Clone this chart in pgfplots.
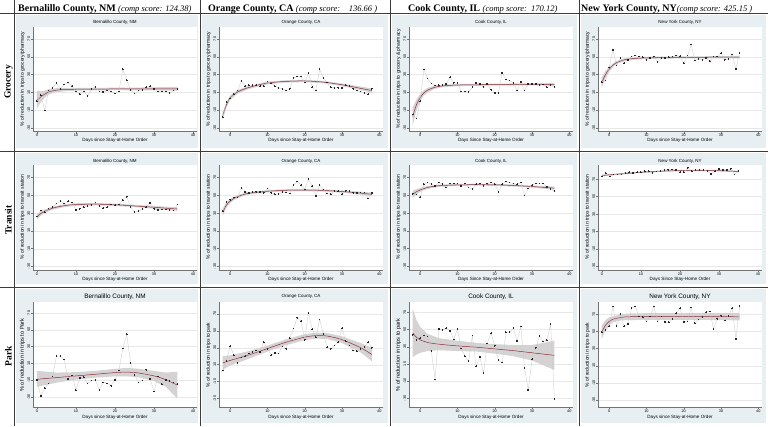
\documentclass[border=0pt]{standalone}
\usepackage{pgfplots}
\pgfplotsset{compat=1.18}
\usepackage{pgfplotstable}
\usepackage{fontspec}
\setmainfont{Liberation Serif}
\newfontfamily\arial{Liberation Sans}
\definecolor{panelbg}{RGB}{232,239,242}
\definecolor{fitred}{RGB}{135,45,55}
\definecolor{cigray}{RGB}{213,210,212}
\definecolor{gridline}{RGB}{60,60,60}

\pgfplotstableread{
x y
0 0
1 6.7
2 -10.5
3 12
4 15
5 20.6
6 14
7 19
8 21
9 17
10 11
11 8
12 11
13 5.6
14 14
15 15.7
16 11
17 10.4
18 12
19 11
20 8.6
21 11
22 36
23 23.6
24 13
25 8.6
26 12
27 13
28 15.7
29 16.8
30 14
31 11
32 11
33 11
34 9.3
35 12
36 14
}\dBG
\pgfplotstableread{
x f lo hi
0 1 -8 12
1 5 -1 11
2 8 4 12
3 10.5 7.5 13.5
5 12.5 10.3 14.7
8 13.3 11.6 15
12 13.6 12.1 15.1
20 13.8 12.4 15.2
28 13.9 12.3 15.5
36 14 11.8 16.2
}\fBG

\pgfplotstableread{
x y
-2 -18
-1 -1
0 3
1 8
2 12
3 23
4 17
5 18
6 18
7 18
8 17
9 17
10 22
11 20
12 17
13 15
14 14
15 12
16 14
17 26
18 28
19 28
20 21
21 32
22 16
23 12
24 36
25 26
26 21
27 16
28 15
29 15
30 15
31 18
32 17
33 14
34 12
35 11
36 9
37 8
38 14
}\dOG
\pgfplotstableread{
x f lo hi
-2 -16 -20 -12
-1 -4 -7 -1
0 4 1.5 6.5
2 10.5 8.5 12.5
5 15.5 13.8 17.2
10 20.5 19 22
15 22.3 21 23.6
20 22.8 21.5 24.1
25 21.5 20.2 22.8
30 18.5 17 20
35 14.5 12.5 16.5
38 12 9.5 14.5
}\fOG

\pgfplotstableread{
x y
-2 -15
-1 -19.5
0 0
1 35.6
2 25.4
3 19.8
4 17.6
5 18
6 18
7 19.4
8 27
9 20.6
10 20.6
11 11
12 11
13 10.4
14 15.7
15 20.6
16 19.4
17 15.7
18 19.4
19 13
20 9.3
21 9.3
22 31.8
23 24.3
24 23.2
25 20.6
26 12
27 21.7
28 12
29 19.4
30 19.4
31 19.4
32 18
33 18.7
34 15.7
35 18
36 15.7
}\dCG
\pgfplotstableread{
x f lo hi
-2 -17 -27 -7
-1 -4 -10 2
0 4 0 8
1 9.5 6.5 12.5
2 12.5 10 15
4 15.8 14 17.6
6 17.2 15.8 18.6
10 18.2 17 19.4
20 18.7 17.6 19.8
30 19 17.8 20.2
36 19.1 17.6 20.6
}\fCG

\pgfplotstableread{
x y
-2 21.5
-1 23.4
0 38
1 57.7
2 40
3 48.4
4 42.8
5 46.5
6 50.2
7 51.3
8 50.2
9 49.5
10 46.5
11 48.7
12 50.2
13 43.9
14 48.7
15 48.7
16 49.5
17 50.2
18 51.3
19 50.6
20 42.8
21 51.3
22 63.7
23 45.7
24 47.6
25 46.5
26 48.7
27 45
28 50.2
29 50.2
30 54
31 46.5
32 47.6
33 52.5
34 36.4
35 54.3
}\dNG
\pgfplotstableread{
x f lo hi
-2 21 15 27
-1 30 26 34
0 36 33 39
1 40.5 38.5 42.5
2 43.5 41.8 45.2
4 46.5 45 48
6 47.8 46.5 49.1
10 48.8 47.6 50
20 49.3 48.2 50.4
30 49.5 48.3 50.7
35 49.5 48 51
}\fNG

\pgfplotstableread{
x y
0 26
1 33
2 31
3 35
4 36.8
5 40.6
6 43.3
7 40.6
8 43.3
9 41.8
10 33.7
11 34.9
12 36.8
13 37.6
14 38.7
15 41.8
16 37.9
17 35.6
18 36.8
19 39.8
20 38.7
21 39.5
22 44.4
23 48.2
24 36.8
25 31
26 32.2
27 34.9
28 36.8
29 41.4
30 34.9
31 33.7
32 34
33 34
34 33.7
35 33
36 39.8
}\dBT
\pgfplotstableread{
x f lo hi
0 26 23 29
1 29.5 27 32
2 32 30 34
4 35.5 33.8 37.2
7 38.3 36.8 39.8
10 39.6 38.2 41
15 40 38.7 41.3
20 39.3 38 40.6
25 38 36.7 39.3
30 36.5 35 38
36 34.5 32.5 36.5
}\fBT

\pgfplotstableread{
x y
-2 32
-1 42.3
0 45
1 47.3
2 47.3
3 58.5
4 53.8
5 52.7
6 53.8
7 53.8
8 53.8
9 52.7
10 57.7
11 52.7
12 51.2
13 51.2
14 53.8
15 53
16 52
17 61.5
18 65.4
19 61.5
20 56.5
21 68
22 60.4
23 49.2
24 61.5
25 56.5
26 52
27 51.2
28 55
29 54.6
30 51.2
31 55
32 54.6
33 52.7
34 52.7
35 53
36 53
37 46.2
38 52.7
}\dOT
\pgfplotstableread{
x f lo hi
-2 31 27 35
-1 39 36 42
0 43.5 41.3 45.7
1 46.5 44.7 48.3
3 50 48.5 51.5
5 52.2 50.9 53.5
10 54.5 53.3 55.7
15 55.6 54.4 56.8
20 55.9 54.7 57.1
25 55.4 54.2 56.6
30 54.2 53 55.4
35 52.4 50.8 54
38 51 49 53
}\fOT

\pgfplotstableread{
x y
-2 51.7
-1 51
0 48
1 62.4
2 64.3
3 62.4
4 60.5
5 64.3
6 62.4
7 58.6
8 63.2
9 63.2
10 63.2
11 60.5
12 63.2
13 58.6
14 56.7
15 62.4
16 63.2
17 60.5
18 63.2
19 64.3
20 62.4
21 54
22 62.4
23 65.4
24 64.3
25 63.2
26 62.4
27 64.3
28 49.8
29 57.5
30 61.3
31 63.2
32 63.2
33 63.2
34 59.4
35 56.7
36 54.8
}\dCT
\pgfplotstableread{
x f lo hi
-2 51 47 55
-1 54 51 57
0 56 53.8 58.2
2 58.8 57.2 60.4
5 60.7 59.5 61.9
10 61.6 60.5 62.7
15 61.9 60.8 63
20 61.7 60.6 62.8
25 61 59.9 62.1
30 59.8 58.6 61
36 58 56.3 59.7
}\fCT

\pgfplotstableread{
x y
0 73
1 76.6
2 72.7
3 75
4 75
5 75
6 77
7 77.8
8 77
9 77.8
10 77.8
11 79
12 79
13 77
14 78.6
15 79
16 80.5
17 80.5
18 80.9
19 80.5
20 77.8
21 77.8
22 82.8
23 79
24 80.5
25 80.5
26 80.5
27 79
28 75.8
29 79
30 81.7
31 80.5
32 80.5
33 81.7
34 75
35 79
}\dNT
\pgfplotstableread{
x f lo hi
0 74 73 75
5 75.9 75.1 76.7
10 77.6 76.9 78.3
15 78.9 78.2 79.6
20 79.6 78.9 80.3
25 79.8 79.1 80.5
30 79.5 78.7 80.3
35 78.6 77.6 79.6
}\fNT

\pgfplotstableread{
x y
0 -9.8
1 -28.8
2 -19.5
3 -13.9
4 -5.8
5 18.4
6 18.4
7 14.4
8 -8.6
9 -4.6
10 -21.9
11 -7.4
12 -6.6
13 -13.9
14 -10.6
15 -9.8
16 -21.9
17 -12.7
18 -13.9
19 -16.7
20 -9.8
21 1.5
22 27.7
23 44.6
24 10.3
25 -3.8
26 -12.7
27 -10.6
28 2.3
29 -8.6
30 -23.5
31 -5.8
32 -14.7
33 -9.8
34 -11
35 -13
36 -14.7
}\dBP
\pgfplotstableread{
x f lo hi
0 -9 -18 1
5 -7 -13 -1
10 -5 -9.5 -0.5
15 -3 -7 1
20 -1 -5.5 3.5
23 -0.5 -5.5 4.5
26 -1.5 -6.5 3.5
30 -5 -11 1
33 -9.5 -18 -1
36 -16 -32 0
}\fBP

\pgfplotstableread{
x y
-2 3.1
-1 14.6
0 31.9
1 21.2
2 12.3
3 18.5
4 20
5 23.1
6 25
7 26.9
8 25
9 36.5
10 28.8
11 21.2
12 23.8
13 23.1
14 31.5
15 28.8
16 41.2
17 52.7
18 65.4
19 61.5
20 39.2
21 71.2
22 51.9
23 42.3
24 63.5
25 46.2
26 30.8
27 28.8
28 32.7
29 36.5
30 53.1
31 37.7
32 32.7
33 26.9
34 25.8
35 28.8
36 31
37 36.5
38 30
}\dOP
\pgfplotstableread{
x f lo hi
-2 12 4 20
0 15 9 21
5 21.5 17 26
10 29 25.5 32.5
15 36.5 33 40
20 42.5 39 46
23 44.3 40.8 47.8
26 43.8 40.3 47.3
30 39.5 35.5 43.5
35 30 24.5 35.5
38 22 14 30
}\fOP

\pgfplotstableread{
x y
-2 44
-1 38
0 40
1 43
2 41.8
3 24.9
4 -8
5 50.8
6 49.6
7 51.6
8 48.4
9 38.6
10 50.4
11 28
12 19
13 13.1
14 43
15 7.6
16 18.2
17 -0.6
18 33.9
19 45.7
20 31.2
21 14.3
22 11.6
23 46.9
24 46.9
25 51.6
26 36.7
27 53.5
28 5.3
29 -20.2
30 15.5
31 28.8
32 42.5
33 35.9
34 37.8
35 56.3
36 -30.8
}\dCP
\pgfplotstableread{
x f lo hi
-2 46 18 74
-1 41 21 61
0 38 23 53
2 35 25 45
5 33 26 40
10 31 25 37
15 29.5 24.5 34.5
20 27.5 22 33
25 25.5 19 32
30 23 14 32
36 20 3 37
}\fCP

\pgfplotstableread{
x y
-2 48.8
-1 51.2
0 56
1 78.8
2 55.8
3 70
4 55.8
5 58.5
6 76.9
7 78.8
8 67.3
9 66.5
10 61.5
11 67.3
12 78.8
13 61.5
14 67.3
15 60.8
16 60.4
17 64.2
18 71.2
19 76.9
20 60.8
21 61.5
22 77.7
23 59.6
24 63.5
25 66.5
26 72.3
27 73.1
28 52.7
29 64.6
30 68.1
31 62.7
32 68.1
33 76.9
34 41.2
35 79.6
}\dNP
\pgfplotstableread{
x f lo hi
-2 49 41 57
-1 57 51 63
0 61.5 57 66
1 64 60.5 67.5
3 66 62.5 69.5
5 66.8 63 70.6
10 67.1 63.2 71
20 67.2 63.3 71.1
30 67 63 71
35 66.8 62.6 71
}\fNP

\pgfplotsset{panel/.style={
  scale only axis, width=164pt, height=105pt,
  xmin=-1, xmax=41, ymin=-34, ymax=84,
  axis x line*=bottom, axis y line*=left,
  axis line style={-, draw=black!55, line width=0.35pt},
  axis background/.style={fill=white},
  xtick={0,10,20,30,40}, ytick={-30,-10,10,30,50,70},
  tick align=outside, major tick length=2pt,
  tick style={black!55, line width=0.35pt},
  xticklabel style={font=\arial\fontsize{3.8}{4}\selectfont, inner sep=0.6pt},
  yticklabel style={font=\arial\fontsize{3.8}{4}\selectfont, rotate=90, anchor=south, inner sep=0.6pt},
  /pgf/number format/assume math mode=true,
  ymajorgrids, grid style={black!9, line width=0.3pt},
}}

\newcommand{\tfs}{\fontsize{4.5}{5}\selectfont}
\newcommand{\tfl}{\fontsize{6.4}{7}\selectfont}
\newcommand{\lfs}{\fontsize{5}{6}\selectfont}
\newcommand{\lfl}{\fontsize{5.6}{6}\selectfont}
\newcommand{\xfs}{\fontsize{4.6}{5}\selectfont}

% #1 L, #2 T, #3 axis opts, #4 data, #5 fit, #6 title, #7 ylabel, #8 xlabel
\newcommand{\panel}[8]{%
  \fill[panelbg] ({#1pt+2pt},{-#2pt-2pt}) rectangle ({#1pt+\cellw-2pt},{-#2pt-\cellh+3pt});
  \begin{axis}[panel, at={({#1pt+19pt},{-#2pt-\rowtop})}, anchor=north west, #3]
    \addplot[draw=none, stack plots=y, forget plot] table[x=x,y=lo]{#5};
    \addplot[fill=cigray, draw=none, stack plots=y, forget plot] table[x=x,y expr=\thisrow{hi}-\thisrow{lo}]{#5} \closedcycle;
    \addplot[fitred, line width=0.5pt, smooth, stack plots=false] table[x=x,y=f]{#5};
    \addplot[black!22, line width=0.3pt, mark=*, mark size=0.32pt, stack plots=false,
      mark options={fill=black!85, draw=black!85, line width=0pt}] table[x=x,y=y]{#4};
  \end{axis}
  \node[font=\arial, inner sep=0pt] at ({#1pt+101pt},{-#2pt-\rowtitle}) {#6};
  \node[font=\arial\xfs, inner sep=0pt] at ({#1pt+101pt},{-#2pt-\rowxl}) {#8};
  \node[font=\arial, inner sep=0pt, rotate=90] at ({#1pt+8.5pt},{-#2pt-\rowylab}) {#7};
}

\begin{document}
\begin{tikzpicture}
\fill[white] (0pt,0pt) rectangle (768pt,-426pt);

\def\rowtop{13.5pt}\def\rowtitle{9.5pt}\def\rowxl{127.5pt}\def\rowylab{66pt}\def\cellh{138pt}
\def\cellw{186pt}
\panel{14}{13}{}{\dBG}{\fBG}{\tfs Bernalillo County, NM}{\lfs \% of reduction in trips to grocery/pharmacy}{Days since Stay-at-Home Order}
\def\cellw{190pt}
\panel{200}{13}{xmin=-3}{\dOG}{\fOG}{\tfs Orange County, CA}{\lfs \% of reduction in trips to grocery/pharmacy}{Days since Stay-at-Home Order}
\def\cellw{189pt}
\panel{390}{13}{xmin=-3}{\dCG}{\fCG}{\tfs Cook County, IL}{\lfs \% of reduction in trips to grocery \& pharmacy}{Days Since Stay-at-Home Order}
\panel{579}{13}{xmin=-3}{\dNG}{\fNG}{\tfs New York County, NY}{\lfs \% of reduction in trips to grocery/pharmacy}{Days since Stay-at-Home Order}

\def\rowtop{14pt}\def\rowtitle{10pt}\def\rowxl{128pt}\def\rowylab{66pt}\def\cellh{136pt}
\def\cellw{186pt}
\panel{14}{151}{}{\dBT}{\fBT}{\tfs Bernalillo County, NM}{\lfs \% of reduction in trips to transit station}{Days since Stay-at-Home Order}
\def\cellw{190pt}
\panel{200}{151}{xmin=-3}{\dOT}{\fOT}{\tfs Orange County, CA}{\lfs \% of reduction in trips to transit station}{Days since Stay-at-Home Order}
\def\cellw{189pt}
\panel{390}{151}{xmin=-3}{\dCT}{\fCT}{\tfs Cook County, IL}{\lfs \% of reduction in trips to transit station}{Days Since Stay-at-Home Order}
\panel{579}{151}{ymax=86}{\dNT}{\fNT}{\tfs New York County, NY}{\lfs \% of reduction in trips to transit station}{Days Since Stay-Home Order}

\def\rowtop{15pt}\def\rowtitle{9.5pt}\def\rowxl{130pt}\def\rowylab{68pt}\def\cellh{139pt}
\def\cellw{186pt}
\panel{14}{287}{ymin=-42,ymax=83}{\dBP}{\fBP}{\tfl Bernalillo County, NM}{\lfl \% of reduction in trips to Park}{Days since Stay-at-Home Order}
\def\cellw{190pt}
\panel{200}{287}{xmin=-3,ymin=-40,ymax=84}{\dOP}{\fOP}{\tfs Orange County, CA}{\lfs \% of reduction in trips to park}{Days since Stay-at-Home Order}
\def\cellw{189pt}
\panel{390}{287}{xmin=-3,ymin=-40,ymax=82}{\dCP}{\fCP}{\tfl Cook County, IL}{\lfl \% of reduction in trips to park}{Days since Stay-at-Home Order}
\panel{579}{287}{xmin=-3,ymin=-38,ymax=84}{\dNP}{\fNP}{\tfl New York County, NY}{\lfs \% of reduction in trips to park}{Days since Stay-at-Home Order}

\draw[gridline, line width=0.8pt] (0pt,-13pt) -- (768pt,-13pt);
\draw[gridline, line width=0.7pt] (0pt,-151pt) -- (768pt,-151pt);
\draw[gridline, line width=0.7pt] (0pt,-287pt) -- (768pt,-287pt);
\foreach \xx in {14,200,390,579} \draw[gridline, line width=0.7pt] (\xx pt,0pt) -- (\xx pt,-426pt);

\node[anchor=base west, inner sep=0pt] at (18pt,-11pt) {{\fontsize{10}{12}\selectfont\bfseries Bernalillo County, NM} {\fontsize{8.5}{10}\selectfont\itshape (comp score: 124.38)}};
\node[anchor=base west, inner sep=0pt] at (208pt,-11pt) {{\fontsize{10}{12}\selectfont\bfseries Orange County, CA} {\fontsize{8.5}{10}\selectfont\itshape (comp score:\ \ \ \ 136.66 )}};
\node[anchor=base west, inner sep=0pt] at (408pt,-11pt) {{\fontsize{10}{12}\selectfont\bfseries Cook County, IL} {\fontsize{8.5}{10}\selectfont\itshape (comp score:\ \ 170.12)}};
\node[anchor=base west, inner sep=0pt] at (581pt,-11pt) {{\fontsize{10}{12}\selectfont\bfseries New York County, NY}{\fontsize{8.5}{10}\selectfont\itshape (comp score: 425.15 )}};

\node[rotate=90, font=\bfseries\fontsize{9.5}{11}\selectfont, inner sep=0pt] at (8.5pt,-82pt) {Grocery};
\node[rotate=90, font=\bfseries\fontsize{9.5}{11}\selectfont, inner sep=0pt] at (8.5pt,-220pt) {Transit};
\node[rotate=90, font=\bfseries\fontsize{9.5}{11}\selectfont, inner sep=0pt] at (8.5pt,-356pt) {Park};

\pgfresetboundingbox
\path[use as bounding box] (0pt,0pt) rectangle (768pt,-426pt);
\end{tikzpicture}
\end{document}
